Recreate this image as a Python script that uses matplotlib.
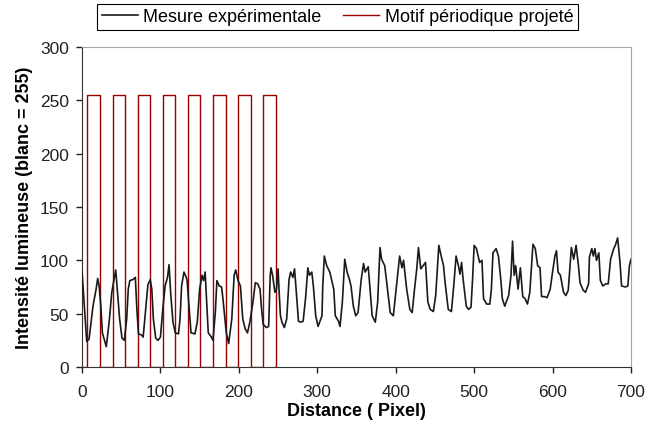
import matplotlib.pyplot as plt

# Mesure expérimentale
mes_x = [0, 6, 9, 14, 18, 20, 22, 24, 26, 31, 35, 38, 43, 45, 48, 51, 54, 57, 59, 61,
         65, 68, 70, 72, 76, 78, 82, 84, 87, 89, 91, 94, 97, 100, 103, 106, 109, 111,
         113, 116, 119, 123, 125, 127, 130, 133, 134, 136, 139, 144, 147, 150, 153, 155,
         157, 159, 161, 165, 167, 170, 172, 175, 178, 180, 184, 187, 191, 194, 196, 199,
         202, 205, 208, 211, 214, 218, 221, 224, 227, 229, 231, 235, 238, 240, 241, 243,
         246, 248, 250, 251, 253, 255, 258, 261, 264, 266, 269, 271, 273, 276, 279, 282,
         285, 288, 290, 293, 295, 298, 301, 306, 307, 309, 312, 316, 321, 323, 327, 329,
         332, 335, 338, 341, 343, 346, 349, 352, 356, 359, 361, 365, 367, 370, 374, 377,
         380, 382, 386, 389, 393, 397, 401, 405, 408, 410, 414, 418, 421, 424, 427, 429,
         432, 438, 441, 444, 448, 451, 455, 458, 461, 463, 467, 471, 474, 477, 480, 482,
         484, 486, 490, 493, 496, 498, 500, 503, 507, 510, 512, 516, 520, 522, 524, 528,
         531, 534, 536, 539, 544, 547, 549, 551, 553, 556, 559, 562, 565, 568, 571, 575,
         578, 581, 584, 586, 590, 593, 597, 600, 603, 605, 607, 610, 614, 617, 620, 624,
         627, 630, 633, 635, 639, 642, 646, 647, 650, 652, 654, 656, 659, 661, 664, 668,
         671, 674, 678, 680, 683, 686, 688, 693, 696, 698, 700]
mes_y = [90, 24, 26, 57, 73, 83, 75, 57, 32, 19, 45, 70, 91, 73, 45, 27, 25, 45, 73, 81,
         82, 84, 54, 31, 30, 28, 61, 77, 82, 73, 45, 27, 25, 28, 54, 76, 84, 96,
         70, 42, 32, 31, 45, 76, 89, 84, 81, 61, 32, 31, 42, 73, 86, 81,
         89, 61, 32, 28, 25, 51, 81, 76, 75, 62, 32, 22, 45, 86, 91, 81,
         76, 45, 36, 32, 42, 61, 79, 78, 73, 54, 40, 37, 38, 86, 93, 86,
         70, 73, 92, 76, 48, 42, 37, 45, 82, 89, 84, 92, 73, 43, 42, 43,
         64, 93, 86, 89, 76, 48, 38, 48, 76, 104, 95, 89, 73, 48, 43, 38,
         61, 101, 89, 82, 76, 57, 48, 51, 82, 97, 89, 94, 76, 48, 42, 61,
         112, 101, 95, 76, 51, 48, 76, 104, 93, 100, 73, 54, 51, 73, 93, 112,
         92, 98, 61, 54, 52, 67, 114, 104, 95, 79, 54, 52, 76, 104, 95, 87,
         98, 82, 57, 54, 56, 82, 114, 111, 98, 100, 64, 59, 59, 73, 107, 111,
         104, 82, 64, 57, 67, 86, 118, 86, 95, 73, 93, 66, 64, 59, 70, 115,
         111, 95, 93, 66, 66, 65, 73, 89, 104, 109, 89, 86, 70, 67, 72, 112,
         101, 114, 95, 79, 72, 70, 78, 103, 111, 104, 111, 100, 107, 81, 76, 78,
         78, 101, 111, 114, 121, 98, 76, 75, 76, 95, 101]

# Motif périodique projeté (créneaux 0 / 255)
motif_x = [0, 7, 23, 39, 55, 71, 87, 103, 119, 135, 151, 167, 183, 199, 215, 231, 247]
motif_y = [0, 255, 0, 255, 0, 255, 0, 255, 0, 255, 0, 255, 0, 255, 0, 255, 0]

plt.rcParams['font.family'] = ['Liberation Sans', 'DejaVu Sans']

fig = plt.figure(figsize=(6.57, 4.27), dpi=100)
ax = fig.add_axes([0.1248, 0.1382, 0.8356, 0.7494])

l1, = ax.plot(mes_x, mes_y, color='#1a1a1a', lw=1.2, zorder=3)
l2, = ax.plot(motif_x, motif_y, color='#990000', lw=1.0, drawstyle='steps-post', zorder=2)

ax.set_xlim(0, 700)
ax.set_ylim(0, 300)
ax.set_xticks(range(0, 701, 100))
ax.set_yticks(range(0, 301, 50))
ax.tick_params(direction='out', length=4.5, width=1, labelsize=12.5, colors='#222222')
ax.tick_params(axis='x', pad=8)
ax.tick_params(axis='y', pad=5)

for s in ['top', 'right']:
    ax.spines[s].set_color('#a6a6a6')
for s in ['left', 'bottom']:
    ax.spines[s].set_color('#333333')

ax.set_xlabel('Distance ( Pixel)', fontsize=13, fontweight='bold', labelpad=2)
ax.set_ylabel('Intensité lumineuse (blanc = 255)', fontsize=13, fontweight='bold', labelpad=5)

leg = fig.legend([l1, l2], ['Mesure expérimentale', 'Motif périodique projeté'],
                 loc='center', bbox_to_anchor=(0.514, 0.958), ncol=2, fontsize=13,
                 frameon=True, fancybox=False, edgecolor='black', framealpha=1,
                 handlelength=2.0, columnspacing=1.2, borderpad=0.25, handletextpad=0.3)
leg.get_frame().set_linewidth(0.8)

fig.savefig('out.png', dpi=100)
